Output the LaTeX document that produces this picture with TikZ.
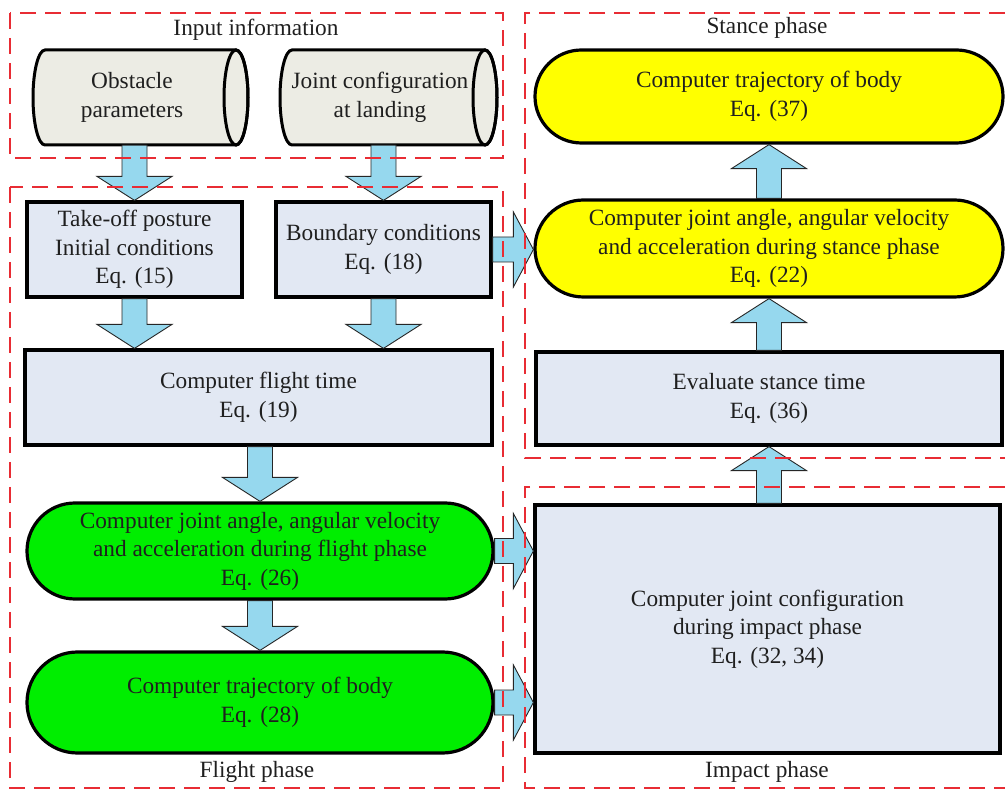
\documentclass[tikz,border=0pt]{standalone}
\usepackage{fontspec}
\setmainfont{Liberation Serif}
\usetikzlibrary{calc}
\definecolor{dashred}{RGB}{232,44,52}
\definecolor{arrowblue}{RGB}{150,216,238}
\definecolor{boxgrey}{RGB}{226,232,243}
\definecolor{cylfill}{RGB}{236,236,228}
\definecolor{stgreen}{RGB}{0,238,0}
\definecolor{styellow}{RGB}{255,255,0}
\tikzset{
  txt/.style={font=\fontsize{23.3}{28.5}\selectfont, align=center, text=black!88},
  procbox/.style={txt, draw=black, line width=3.2pt, fill=boxgrey, inner sep=0pt},
  greenst/.style={txt, draw=black, line width=3.2pt, fill=stgreen, inner sep=0pt},
  yellowst/.style={txt, draw=black, line width=3.2pt, fill=styellow, inner sep=0pt},
  phasebox/.style={draw=dashred, line width=2.2pt, dash pattern=on 16pt off 9pt},
  barrow/.style={draw=black!85, line width=0.9pt, fill=arrowblue, line join=miter},
  cylbody/.style={draw=black, line width=3pt, fill=cylfill},
}
% vertical block arrow: shaft at x of target, from y of source to y of target
\newcommand\varr[2]{%
  \draw[barrow] let \p1=(#1), \p2=(#2), \n1={sign(\y2-\y1)} in
    ({\x2-12.5pt},\y1) -- ({\x2-12.5pt},{\y2-\n1*24pt}) -- ({\x2-37.5pt},{\y2-\n1*24pt})
    -- (\x2,\y2) -- ({\x2+37.5pt},{\y2-\n1*24pt}) -- ({\x2+12.5pt},{\y2-\n1*24pt})
    -- ({\x2+12.5pt},\y1) -- cycle;}
% horizontal block arrow: shaft at y of source, from x of source to x of target
\newcommand\harr[2]{%
  \draw[barrow] let \p1=(#1), \p2=(#2), \n1={sign(\x2-\x1)} in
    (\x1,{\y1+12.5pt}) -- ({\x2-\n1*20pt},{\y1+12.5pt}) -- ({\x2-\n1*20pt},{\y1+37.5pt})
    -- (\x2,\y1) -- ({\x2-\n1*20pt},{\y1-37.5pt}) -- ({\x2-\n1*20pt},{\y1-12.5pt})
    -- (\x1,{\y1-12.5pt}) -- cycle;}
\begin{document}
\begin{tikzpicture}[x=1pt,y=-1pt]
\useasboundingbox (0,0) rectangle (1005,791);

% cylinders (input information)
\path[cylbody] (45,50) -- (236,50) arc[start angle=90,end angle=-90,x radius=12pt,y radius=47.5pt]
  -- (45,145) arc[start angle=270,end angle=90,x radius=12pt,y radius=47.5pt] -- cycle;
\draw[line width=3pt] (236,97.5) ellipse[x radius=12pt,y radius=47.5pt];
\path[cylbody] (292,50) -- (485,50) arc[start angle=90,end angle=-90,x radius=12pt,y radius=47.5pt]
  -- (292,145) arc[start angle=270,end angle=90,x radius=12pt,y radius=47.5pt] -- cycle;
\draw[line width=3pt] (485,97.5) ellipse[x radius=12pt,y radius=47.5pt];
\node[txt, minimum height=95pt, inner sep=0pt] (obst) at (132,97.5) {Obstacle\\parameters};
\node[txt, minimum height=95pt, inner sep=0pt] (joint) at (380,97.5) {Joint configuration\\at landing};

% flight phase
\node[procbox, minimum width=215pt, minimum height=95pt] (takeoff) at (134.5,249.5) {Take-off posture\\Initial conditions\\Eq. (15)};
\node[procbox, minimum width=215pt, minimum height=95pt] (boundary) at (383.5,249.5) {Boundary conditions\\Eq. (18)};
\node[procbox, minimum width=467pt, minimum height=95pt] (flighttime) at (258.5,397.5) {Computer flight time\\Eq. (19)};
\node[greenst, minimum width=466pt, minimum height=96pt, rounded corners=48pt] (green1) at (260,551) {Computer joint angle, angular velocity\\and acceleration during flight phase\\Eq. (26)};
\node[greenst, minimum width=466pt, minimum height=101pt, rounded corners=50.5pt] (green2) at (260,702.5) {Computer trajectory of body\\Eq. (28)};

% stance phase
\node[yellowst, minimum width=468pt, minimum height=93pt, rounded corners=46.5pt] (yellow1) at (769,96.5) {Computer trajectory of body\\Eq. (37)};
\node[yellowst, minimum width=468pt, minimum height=97pt, rounded corners=48.5pt] (yellow2) at (769,248.5) {Computer joint angle, angular velocity\\and acceleration during stance phase\\Eq. (22)};
\node[procbox, minimum width=466pt, minimum height=93pt] (evaluate) at (769,398.5) {Evaluate stance time\\Eq. (36)};

% impact phase
\node[procbox, minimum width=465pt, minimum height=248pt] (impact) at (767.5,629) {Computer joint configuration\\during impact phase\\Eq. (32, 34)};

% block arrows
\varr{obst.south}{takeoff.north}
\varr{joint.south}{boundary.north}
\varr{takeoff.south}{takeoff.south |- flighttime.north}
\varr{boundary.south}{boundary.south |- flighttime.north}
\varr{flighttime.south}{green1.north}
\varr{green1.south}{green2.north}
\varr{evaluate.north}{yellow2.south}
\varr{yellow2.north}{yellow1.south}
\varr{impact.north}{evaluate.south}
\harr{boundary.east}{yellow2.west}
\harr{green1.east}{impact.west}
\harr{green2.east}{impact.west}

% dashed phase frames
\draw[phasebox] (10,13) rectangle (503,158);
\draw[phasebox] (10,187) rectangle (503,788);
\draw[phasebox] (1005,13) -- (525,13) -- (525,458) -- (1005,458);
\draw[phasebox] (1005,487) -- (525,487) -- (525,788) -- (1005,788);

% phase labels
\node[txt] (linput) at (256,30) {Input information};
\node[txt] (lstance) at (767,28) {Stance phase};
\node[txt] (lflight) at (257,772) {Flight phase};
\node[txt] (limpact) at (767,772) {Impact phase};
\end{tikzpicture}
\end{document}
